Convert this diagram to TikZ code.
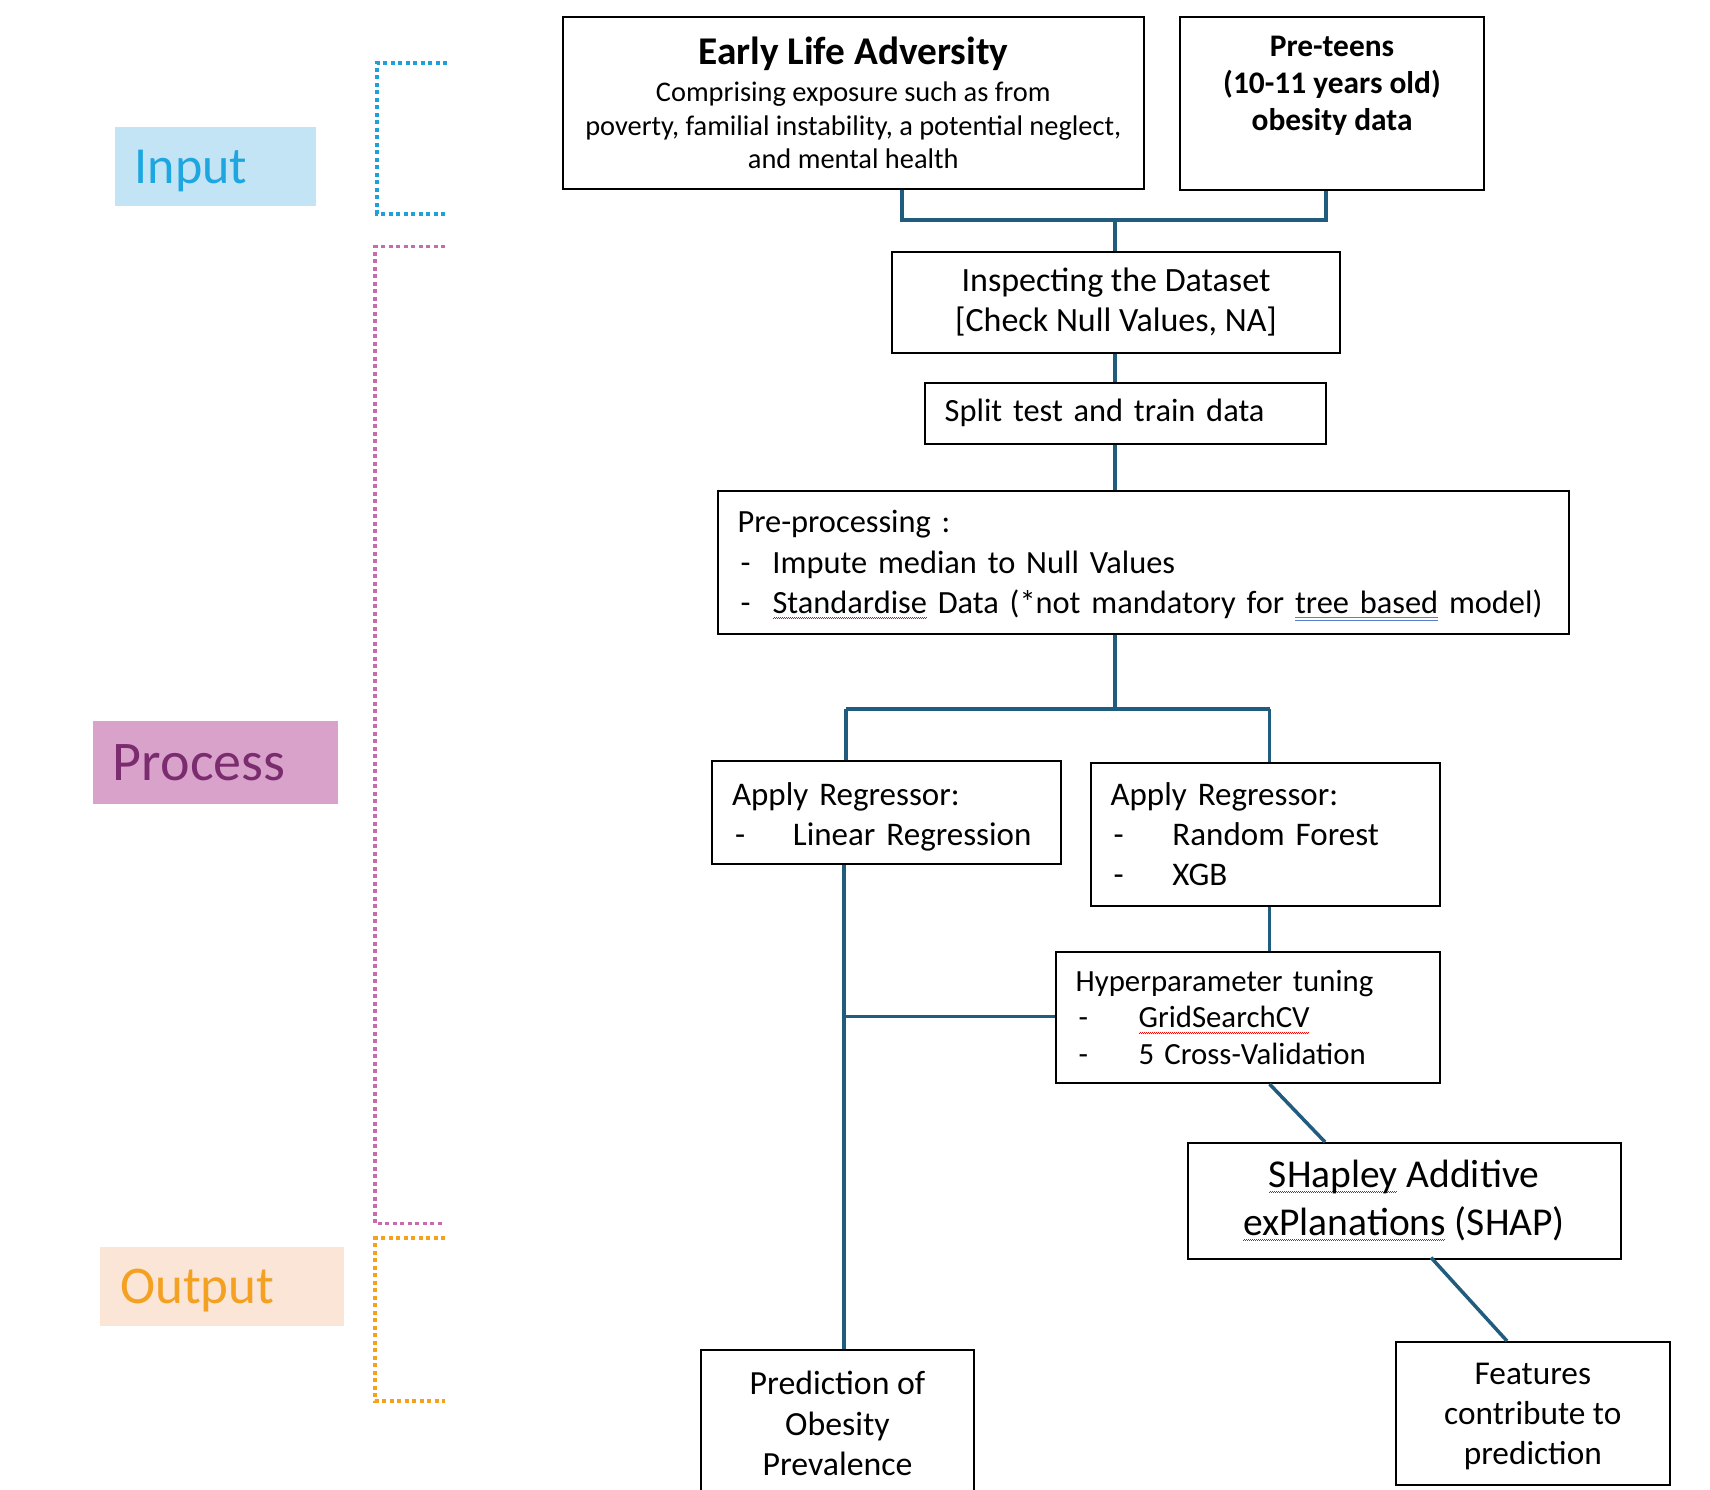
\documentclass[tikz,border=0pt]{standalone}
\usepackage{fontspec}
\setmainfont{Carlito}
\usetikzlibrary{positioning}

\definecolor{linkblue}{HTML}{1F5C7E}
\definecolor{inputfill}{HTML}{C3E4F5}
\definecolor{inputtext}{HTML}{1DA6DF}
\definecolor{procfill}{HTML}{D8A2CB}
\definecolor{proctext}{HTML}{7B2C6F}
\definecolor{outfill}{HTML}{FAE5D6}
\definecolor{outtext}{HTML}{F4A020}
\definecolor{inputline}{HTML}{1DA1DB}
\definecolor{procline}{HTML}{C86AAE}
\definecolor{outline}{HTML}{F5A11C}
\definecolor{spellblue}{HTML}{5B7FD0}

\newcommand\redwave[1]{\setbox0\hbox{#1}\rlap{\textcolor{red}{\leaders\hbox{\rule[-5.5pt]{1pt}{0.9pt}\rule[-4.5pt]{1pt}{0.9pt}}\hskip\wd0}}\box0\relax}
\newcommand\bluedouble[1]{\setbox0\hbox{#1}\rlap{\textcolor{spellblue}{\rule[-4.5pt]{\wd0}{0.9pt}}}\rlap{\textcolor{spellblue}{\rule[-7pt]{\wd0}{0.9pt}}}\box0\relax}
\newcommand\dashitem[2]{\hspace*{3pt}\makebox[#1][l]{-}#2}

\begin{document}
\begin{tikzpicture}[x=1pt, y=-1pt,
  box/.style={draw=black, line width=2pt, anchor=north west, inner xsep=20pt, inner ysep=0pt,
    font=\fontsize{33}{40}\selectfont},
  tag/.style={anchor=north west, inner xsep=20pt, inner ysep=0pt, align=left,
    font=\fontsize{52}{60}\selectfont, text height=33.5pt, text depth=0pt},
  link/.style={draw=linkblue, line width=3.5pt},
  bracket/.style={line width=3.5pt, dash pattern=on 4pt off 3.5pt}]
\useasboundingbox (0,0) rectangle (1710,1490);

\node[tag, fill=inputfill, text=inputtext, minimum width=201.5pt, minimum height=79.5pt, text width=161.5pt] (input) at (114.5,126.5) {Input};
\node[tag, fill=procfill, text=proctext, minimum width=245pt, minimum height=83pt, text width=205pt,
  font=\fontsize{56}{64}\selectfont, text height=36pt] (process) at (92.7,721) {Process};
\node[tag, fill=outfill, text=outtext, minimum width=243.5pt, minimum height=79.5pt, text width=203.5pt,
  font=\fontsize{53}{60}\selectfont] (output) at (100,1246.5) {Output};

\draw[bracket, inputline] (447,63) -- (377,63) -- (377,214) -- (447,214);
\draw[bracket, procline] (445,246.5) -- (375,246.5) -- (375,1223.6) -- (445,1223.6);
\draw[bracket, outline] (445,1238) -- (375,1238) -- (375,1401) -- (445,1401);

\node[box, minimum width=581.4pt, minimum height=171.2pt, align=center, font=\fontsize{28.4}{33.5}\selectfont] (ela) at (561.6,16.4)
  {{\fontsize{39.3}{44}\selectfont\bfseries Early Life Adversity}\\[4pt]
   Comprising exposure such as from\\
   poverty, familial instability, a potential neglect,\\
   and mental health};
\node[box, minimum width=304pt, minimum height=172.3pt] (teens) at (1179,16.4) {};
\node[below=20pt of teens.north, align=center, inner sep=0pt, font=\fontsize{31.4}{37}\selectfont\bfseries] (teenstxt)
  {Pre-teens\\(10-11 years old)\\obesity data};
\node[box, minimum width=448pt, minimum height=101pt, align=center, font=\fontsize{34}{40}\selectfont] (inspect) at (891,251)
  {Inspecting the Dataset\\{[}Check Null Values, NA{]}};
\node[box, minimum width=401.3pt, minimum height=61.1pt, text width=361.3pt, align=left, font=\fontsize{32.4}{40}\selectfont] (split) at (923.7,381.7)
  {Split test and train data};
\node[box, minimum width=851.5pt, minimum height=142.8pt, text width=811.5pt, align=left, font=\fontsize{32.4}{40.3}\selectfont] (pre) at (716.5,489.7)
  {\rule{0pt}{29pt}Pre-processing :\\
   \dashitem{32pt}{Impute median to Null Values}\\
   \mbox{\dashitem{32pt}{\redwave{Standardise} Data (*not mandatory for \bluedouble{tree based} model)}}};
\node[box, minimum width=349pt, minimum height=102.7pt, text width=309pt, align=left] (lr) at (711,760)
  {\rule{0pt}{31pt}Apply Regressor:\\
   \dashitem{58pt}{Linear Regression}};
\node[box, minimum width=349pt, minimum height=143pt, text width=309pt, align=left] (rf) at (1089.5,762)
  {Apply Regressor:\\
   \dashitem{59pt}{Random Forest}\\
   \dashitem{59pt}{XGB}};
\node[box, minimum width=384pt, minimum height=131pt, text width=344pt, align=left, font=\fontsize{30.8}{36.7}\selectfont] (hyper) at (1054.6,951)
  {Hyperparameter tuning\\
   \dashitem{60pt}{\redwave{GridSearchCV}}\\
   \dashitem{60pt}{5 Cross-Validation}};
\node[box, minimum width=433pt, minimum height=115.5pt, align=center, font=\fontsize{39.5}{48}\selectfont] (shap) at (1186.6,1142)
  {\redwave{SHapley} Additive\\\redwave{exPlanations} (SHAP)};
\node[box, minimum width=273.6pt, minimum height=143pt, align=center, font=\fontsize{33.3}{40}\selectfont] (feat) at (1395,1341)
  {\rule{0pt}{28pt}Features\\contribute to\\prediction};
\node[box, minimum width=273pt, minimum height=147pt, align=center, font=\fontsize{33.8}{40.5}\selectfont] (pred) at (700,1349)
  {Prediction of\\Obesity\\Prevalence};

\coordinate (jl) at (902,220);
\coordinate (jr) at (1326,220);
\coordinate (jm) at (1115,220);
\coordinate (fork) at (1115,709);
\coordinate (fl) at (846,709);
\coordinate (fr) at (1269.5,709);
\coordinate (lrknee) at (844,1016.5);
\coordinate (shapin) at (1325,1142);
\coordinate (shapout) at (1431,1257.5);
\coordinate (featin) at (1507,1341);

\draw[link] (ela.south -| jl) -- (jl) -- (jr) -- (teens.south -| jr);
\draw[link] (jm) -- (inspect.north -| jm);
\draw[link] (inspect.south -| jm) -- (split.north -| jm);
\draw[link] (split.south -| jm) -- (pre.north -| jm);
\draw[link] (pre.south -| fork) -- (fork);
\draw[link] (fl) -- (fr);
\draw[link] (fl) -- (lr.north -| fl);
\draw[link] (fr) -- (rf.north -| fr);
\draw[link] (rf.south -| fr) -- (hyper.north -| fr);
\draw[link] (lr.south -| lrknee) -- (pred.north -| lrknee);
\draw[link] (lrknee) -- (hyper.west |- lrknee);
\draw[link] (hyper.south -| fr) -- (shapin);
\draw[link] (shapout) -- (featin);
\end{tikzpicture}
\end{document}
